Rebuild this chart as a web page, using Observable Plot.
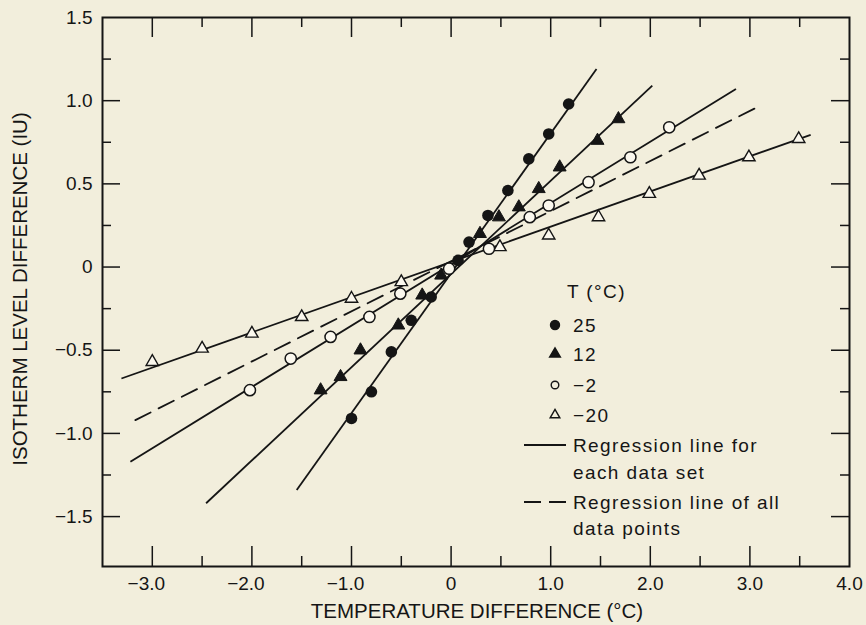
<!DOCTYPE html>
<html>
<head>
<meta charset="utf-8">
<script src="https://cdn.jsdelivr.net/npm/d3@7"></script>
<script src="https://cdn.jsdelivr.net/npm/@observablehq/plot@0.6"></script>
<style>
  html, body { margin: 0; padding: 0; background: #f2eedc; }
  #chart svg { display: block; }
</style>
</head>
<body>
<div id="chart"></div>
<script>
// ---- data ----
const x25 = [-1.0, -0.8, -0.6, -0.4, -0.2, 0.07, 0.18, 0.37, 0.57, 0.78, 0.98, 1.18];
const y25 = [-0.91, -0.75, -0.51, -0.32, -0.18, 0.04, 0.15, 0.31, 0.46, 0.65, 0.80, 0.98];

const x12 = [-1.31, -1.11, -0.91, -0.53, -0.29, -0.1, 0.29, 0.48, 0.68, 0.88, 1.09, 1.47, 1.68];
const y12 = [-0.74, -0.66, -0.50, -0.35, -0.17, -0.05, 0.20, 0.30, 0.36, 0.47, 0.60, 0.76, 0.89];

const xm2 = [-2.02, -1.61, -1.21, -0.82, -0.51, -0.02, 0.38, 0.79, 0.98, 1.38, 1.80, 2.19];
const ym2 = [-0.74, -0.55, -0.42, -0.30, -0.16, -0.01, 0.11, 0.30, 0.37, 0.51, 0.66, 0.84];

const xm20 = [-3.0, -2.5, -2.0, -1.5, -1.0, -0.5, 0.49, 0.98, 1.48, 1.99, 2.49, 2.99, 3.49];
const ym20 = [-0.57, -0.49, -0.40, -0.30, -0.19, -0.09, 0.12, 0.19, 0.30, 0.44, 0.55, 0.66, 0.77];

// regression line end points (each data set)
const regSeries = ["25", "12", "-2", "-20"];
const regX1 = [-1.55, -2.46, -3.22, -3.31];
const regY1 = [-1.34, -1.42, -1.17, -0.67];
const regX2 = [1.46, 2.02, 2.86, 3.61];
const regY2 = [1.19, 1.09, 1.07, 0.795];
// regression line of all data points
const allX = [-3.17, 3.07];
const allY = [-0.92, 0.96];

// ticks
const xMajor = [-3, -2, -1, 0, 1, 2, 3];
const xMinor = [-2.5, -1.5, -0.5, 0.5, 1.5, 2.5, 3.5];
const xLabelsNeg = [-3, -2, -1];
const xLabelsPos = [0, 1, 2, 3, 4];
const yMajor = [-1.5, -1.0, -0.5, 0, 0.5, 1.0];
const yMinor = [-1.25, -0.75, -0.25, 0.25, 0.75, 1.25];
const yLabels = [-1.5, -1.0, -0.5, 0, 0.5, 1.0, 1.5];

const xTitle = "TEMPERATURE DIFFERENCE (°C)";
const yTitle = "ISOTHERM LEVEL DIFFERENCE (IU)";
const legendTitle = "T (°C)";
const legendSeries = ["25", "12", "−2", "−20"];
const legendLines = [["Regression line for", "each data set"], ["Regression line of all", "data points"]];

// ---- tables ----
const zip = (xs, ys) => xs.map((x, i) => ({x, y: ys[i]}));
const d25 = zip(x25, y25), d12 = zip(x12, y12), dm2 = zip(xm2, ym2), dm20 = zip(xm20, ym20);
const regs = regSeries.map((s, i) => ({s, x1: regX1[i], y1: regY1[i], x2: regX2[i], y2: regY2[i]}));
const allLine = zip(allX, allY);

const fmt = d => d === 0 ? "0" : (d < 0 ? "\u2212" : "") + Math.abs(d).toFixed(1);
const ink = "#151515";
const openFill = "#fbf8ee";

const W = 866, H = 625, ML = 102, MR = 17, MT = 17, MB = 59;
const xDom = [-3.5, 4.0], yDom = [-1.8, 1.5];
const fw = W - ML - MR, fh = H - MT - MB;
// pixel lengths of the inward ticks, converted to data units
const ux = (xDom[1] - xDom[0]) / fw, uy = (yDom[1] - yDom[0]) / fh;
const tickW = 1.5;
const xTicks = (vals, len) => [
  Plot.ruleX(vals, {x: d => d, y1: yDom[0], y2: yDom[0] + len * uy, stroke: ink, strokeWidth: tickW}),
  Plot.ruleX(vals, {x: d => d, y1: yDom[1], y2: yDom[1] - len * uy, stroke: ink, strokeWidth: tickW})
];
const yTicks = (vals, len) => [
  Plot.ruleY(vals, {y: d => d, x1: xDom[0], x2: xDom[0] + len * ux, stroke: ink, strokeWidth: tickW}),
  Plot.ruleY(vals, {y: d => d, x1: xDom[1], x2: xDom[1] - len * ux, stroke: ink, strokeWidth: tickW})
];

const chart = Plot.plot({
  width: W,
  height: H,
  marginLeft: ML,
  marginRight: MR,
  marginTop: MT,
  marginBottom: MB,
  style: {background: "#f2eedc", color: ink, fontFamily: "'Liberation Sans', Arial, sans-serif"},
  x: {domain: xDom},
  y: {domain: yDom},
  marks: [
    // tick labels
    Plot.axisX(xLabelsPos, {anchor: "bottom", tickSize: 0, tickPadding: 10, tickFormat: fmt, label: null, fontSize: 19}),
    Plot.axisX(xLabelsNeg, {anchor: "bottom", tickSize: 0, tickPadding: 10, tickFormat: fmt, label: null, fontSize: 19, dx: -6}),
    Plot.axisY(yLabels, {anchor: "left", tickSize: 0, tickPadding: 10, tickFormat: fmt, label: null, fontSize: 19}),
    Plot.frame({stroke: ink, strokeWidth: 2}),
    // regression lines
    Plot.link(regs, {x1: "x1", y1: "y1", x2: "x2", y2: "y2", stroke: ink, strokeWidth: 1.8}),
    Plot.line(allLine, {x: "x", y: "y", stroke: ink, strokeWidth: 1.8, strokeDasharray: "17,9"}),
    // data points
    Plot.dot(dm20, {x: "x", y: "y", symbol: "triangle", r: 4.6, fill: openFill, stroke: ink, strokeWidth: 1.4}),
    Plot.dot(dm2, {x: "x", y: "y", symbol: "circle", r: 5.6, fill: openFill, stroke: ink, strokeWidth: 1.5}),
    Plot.dot(d12, {x: "x", y: "y", symbol: "triangle", r: 4.8, fill: ink, stroke: ink, strokeWidth: 1}),
    Plot.dot(d25, {x: "x", y: "y", symbol: "circle", r: 5.8, fill: ink, stroke: "none"}),
    // inward ticks on all four sides
    ...xTicks(xMajor, 20),
    ...xTicks(xMinor, 10),
    ...yTicks(yMajor, 18),
    ...yTicks(yMinor, 9)
  ]
});

document.getElementById("chart").appendChild(chart);

// ---- titles and legend ----
const svg = d3.select(chart);
const font = "'Liberation Sans', Arial, sans-serif";

svg.append("text")
  .attr("x", 477).attr("y", 611).attr("dy", "0.35em")
  .attr("text-anchor", "middle")
  .attr("font-family", font).attr("font-size", 20.5).attr("fill", ink)
  .text(xTitle);

svg.append("text")
  .attr("transform", "translate(20,289) rotate(-90)")
  .attr("dy", "0.35em")
  .attr("text-anchor", "middle")
  .attr("font-family", font).attr("font-size", 20.5).attr("fill", ink)
  .text(yTitle);

const lg = svg.append("g")
  .attr("font-family", font).attr("font-size", 19).attr("fill", ink)
  .attr("text-anchor", "start")
  .attr("letter-spacing", "1.4px");

lg.append("text").attr("x", 567).attr("y", 291).attr("dy", "0.35em").text(legendTitle);

const rowY = [325, 354, 385, 415];
const sym = [
  {type: d3.symbolCircle, size: Math.PI * 4.5 * 4.5, fill: ink},
  {type: d3.symbolTriangle, size: Math.PI * 4 * 4, fill: ink},
  {type: d3.symbolCircle, size: Math.PI * 3.8 * 3.8, fill: "none"},
  {type: d3.symbolTriangle, size: Math.PI * 3.6 * 3.6, fill: "none"}
];
legendSeries.forEach((label, i) => {
  lg.append("path")
    .attr("transform", `translate(555,${rowY[i]})`)
    .attr("d", d3.symbol().type(sym[i].type).size(sym[i].size)())
    .attr("fill", sym[i].fill).attr("stroke", ink).attr("stroke-width", 1.4);
  lg.append("text").attr("x", 573).attr("y", rowY[i]).attr("dy", "0.35em").text(label);
});

const lineRows = [[445, 472], [502, 528]];
legendLines.forEach((lines, i) => {
  lg.append("line")
    .attr("x1", 524).attr("x2", 566)
    .attr("y1", lineRows[i][0]).attr("y2", lineRows[i][0])
    .attr("stroke", ink).attr("stroke-width", 1.8)
    .attr("stroke-dasharray", i === 1 ? "17,8" : null);
  lines.forEach((t, j) => {
    lg.append("text").attr("x", 573).attr("y", lineRows[i][j]).attr("dy", "0.35em").text(t);
  });
});
</script>
</body>
</html>
